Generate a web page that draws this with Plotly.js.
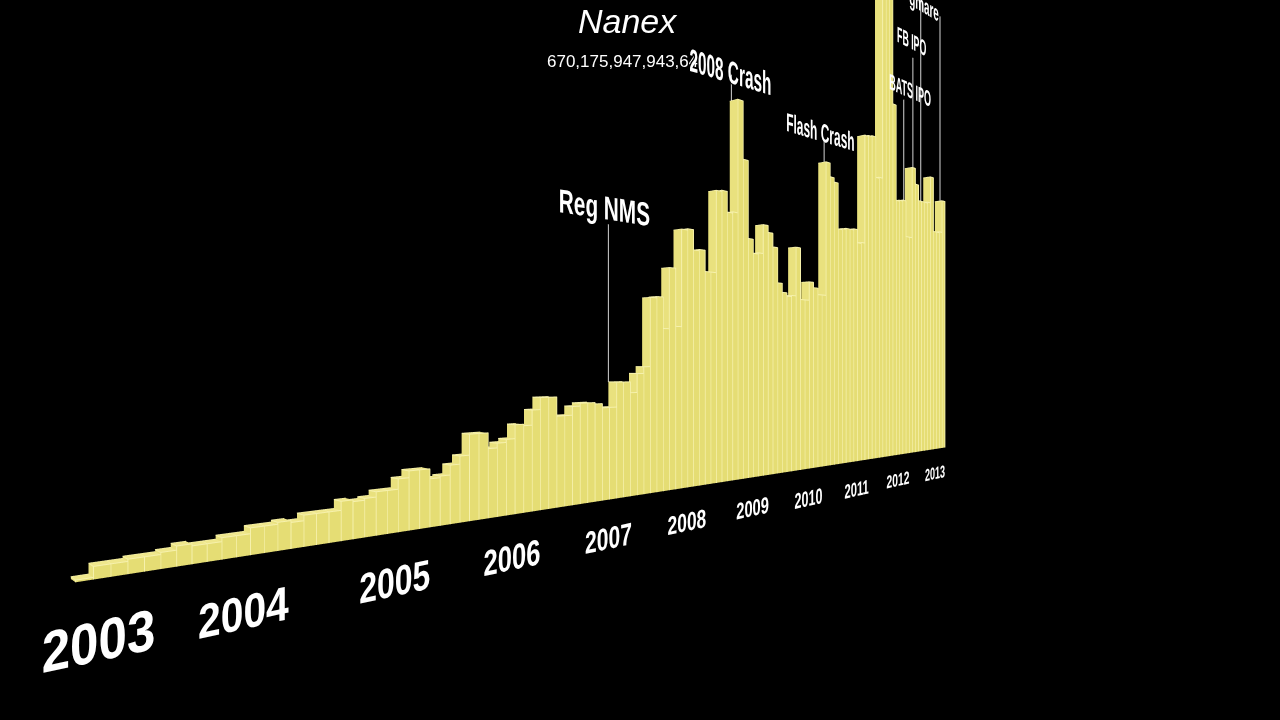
<!DOCTYPE html><html><head><meta charset="utf-8"><script src="https://cdn.plot.ly/plotly-3.0.0.min.js"></script></head><body style="margin:0;background:#000"><div id="c" style="width:1280px;height:720px"></div><script>
// Monthly message volume, Jan 2003 onward (relative units)
const monthlyValues = [
1,6,6,7,7,8,10,9,9,11,11,14,14,15,14,17,17,17,22,21,22,25,25,31,35,35,29,30,36,
41,54,54,44,47,49,58,57,67,75,75,62,62,68,70,70,69,66,66,84,84,76,90,95,147,148,
124,171,126,202,203,187,188,171,171,238,239,222,223,318,269,203,191,192,217,211,199,
168,160,157,158,202,155,155,172,167,161,161,287,274,270,226,227,228,228,229,216,217,
325,326,327,286,287,490,495,495,368,268,269,270,232,232,308,291,274,274,274,275,304,244,244,245,281];
const yearLabels = ['2003','2004','2005','2006','2007','2008','2009','2010','2011','2012','2013'];
const yearCx = [98,243,394,512,608,687,752,808,856,898,935];
const yearCy = [640,612,581,557,538,522,508,498,489,480,473];
const yearFont = [58,48,42,36,31,26,23,22,20,18,17];
const yearSx = [.88,.85,.76,.71,.68,.67,.64,.57,.56,.57,.53];
const eventLabels = ['Reg NMS','2008 Crash','Flash Crash','BATS IPO','FB IPO','gmare'];
const eventCx = [604,730,820,910,911,924];
const eventCy = [208,72,132,90,41,6];
const eventFont = [33,32,26,22,22,22];
const eventSx = [.63,.48,.46,.41,.40,.45];
const eventSlope = [.154,.3,.3,.44,.52,.6];
const leaderMonth = [48,68.3,87.5,109.5,112.4,115,121.6];
const leaderDepth = [1,1,.5,.5,.5,.5,.5];
const leaderFrom = [84,318,287,270,308,274,281];
const leaderTo = [199,341,309,380,430,510,493];

const X=[],Y=[],Z=[],I=[],J=[],K=[],FC=[];
const FRONT='#e5dd74',END='#e9e17e',TOP='#efe78c',BACK='#e5dd74';
function quad(a,b,c,d,col){I.push(a,a);J.push(b,c);K.push(c,d);FC.push(col,col);}
const ex=[],ey=[],ez=[];
monthlyValues.forEach((v,m)=>{
  const o=X.length;
  [[m,0,0],[m+1,0,0],[m+1,1,0],[m,1,0],[m,0,v],[m+1,0,v],[m+1,1,v],[m,1,v]].forEach(p=>{X.push(p[0]);Y.push(p[1]);Z.push(p[2]);});
  quad(o,o+1,o+5,o+4,FRONT);
  quad(o+3,o,o+4,o+7,END);
  quad(o+4,o+5,o+6,o+7,TOP);
  quad(o+1,o+2,o+6,o+5,END);
  quad(o+2,o+3,o+7,o+6,BACK);
  ex.push(m,m,m+1,m+1,null);ey.push(-.02,-.02,-.02,-.02,null);ez.push(0,v,v,0,null);
  ex.push(m,m,m+1,null);ey.push(-.02,1,1,null);ez.push(v,v,v,null);
});
const lx=[],ly=[],lz=[];
leaderMonth.forEach((m,n)=>{lx.push(m,m,null);ly.push(leaderDepth[n],leaderDepth[n],null);lz.push(leaderFrom[n],leaderTo[n],null);});

// camera geometry, in units of eye height above the floor
const rng={x:[-2,124],y:[-.5,1.5],z:[-10,600]};
const uX=.0698,uY=.085,uZ=.01;
const asp={x:(rng.x[1]-rng.x[0])*uX,y:(rng.y[1]-rng.y[0])*uY,z:(rng.z[1]-rng.z[0])*uZ};
const ctr={x:(rng.x[0]+rng.x[1])/2*uX,y:(rng.y[0]+rng.y[1])/2*uY,z:(rng.z[0]+rng.z[1])/2*uZ};
const eyeW={x:-.969,y:-4.56,z:1};
const eye={x:eyeW.x-ctr.x,y:eyeW.y-ctr.y,z:eyeW.z-ctr.z};
const t=5*.7071;
const center={x:eye.x+t,y:eye.y+t,z:eye.z};
const ax={visible:false,showgrid:false,zeroline:false,showspikes:false,autorange:false};

const anns=[],tf=[];
function T(text,x,y,size,sx,slope,extra){anns.push({text:text,xref:'paper',yref:'paper',x:x/1280,y:1-y/720,xanchor:'center',yanchor:'middle',showarrow:false,
  font:Object.assign({family:'Liberation Sans',size:size,color:'#fff'},extra||{})});tf.push([sx,slope]);}
T('<i>Nanex</i>',627,21,34,1,0);
T('670,175,947,943,64',622,61,17,1,0);
yearLabels.forEach((s,n)=>T('<b>'+s+'</b>',yearCx[n],yearCy[n],yearFont[n],yearSx[n],-.217));
eventLabels.forEach((s,n)=>T('<b>'+s+'</b>',eventCx[n],eventCy[n],eventFont[n],eventSx[n],eventSlope[n],n===1?{shadow:'-2px 0 0 #000, -1px 1px 0 #000'}:{}));

Plotly.newPlot('c',[
 {type:'mesh3d',x:X,y:Y,z:Z,i:I,j:J,k:K,facecolor:FC,flatshading:true,hoverinfo:'skip',
  lighting:{ambient:1,diffuse:0,specular:0,roughness:1,fresnel:0}},
 {type:'scatter3d',mode:'lines',x:ex,y:ey,z:ez,line:{color:'#f6f1ac',width:2},hoverinfo:'skip',connectgaps:false},
 {type:'scatter3d',mode:'lines',x:lx,y:ly,z:lz,line:{color:'#d4d4d4',width:2},hoverinfo:'skip',connectgaps:false}
],{paper_bgcolor:'#000',plot_bgcolor:'#000',showlegend:false,margin:{l:0,r:0,t:0,b:0},annotations:anns,
 scene:{domain:{x:[0,1],y:[0,1]},bgcolor:'#000',aspectmode:'manual',aspectratio:{x:asp.x,y:asp.y,z:asp.z},
  xaxis:Object.assign({range:rng.x},ax),yaxis:Object.assign({range:rng.y},ax),zaxis:Object.assign({range:rng.z},ax),
  camera:{eye:eye,center:center,up:{x:0,y:0,z:1},projection:{type:'perspective'}}}},
 {displayModeBar:false}).then(()=>{
  document.querySelectorAll('#c .annotation').forEach((g,n)=>{
    const te=g.querySelector('text');const b=te.getBBox();const cx=b.x+b.width/2,cy=b.y+b.height/2;const [sx,sl]=tf[n];
    te.setAttribute('transform',`matrix(${sx},${sl*sx},0,1,${cx*(1-sx)},${-sl*sx*cx})`);
  });
 });
</script></body></html>
